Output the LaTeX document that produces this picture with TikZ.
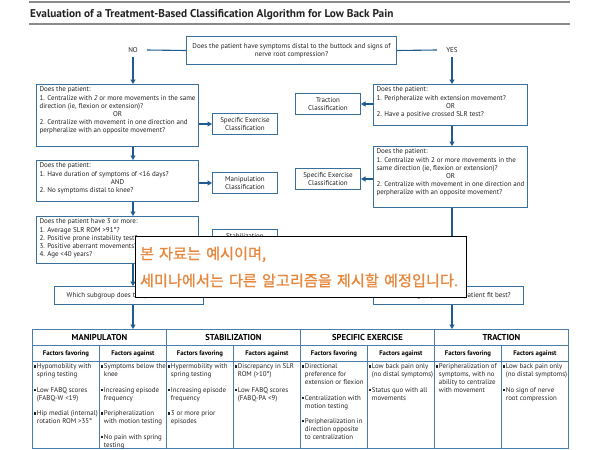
\documentclass[tikz,border=0pt]{standalone}
\usepackage{fontspec}
\setmainfont{PT Sans}
\newfontfamily\krfont[FakeBold=1]{Noto Sans CJK KR}
\usetikzlibrary{arrows.meta,positioning}
\definecolor{ink}{HTML}{222222}
\definecolor{rulegray}{HTML}{8A8A8A}
\definecolor{boxblue}{HTML}{3A6F9C}
\definecolor{flowblue}{HTML}{1E5C8F}
\definecolor{gridblue}{HTML}{4A7DA8}
\definecolor{notice}{HTML}{E6873C}
\newcommand{\qfont}{\fontsize{7}{8.1}\selectfont}
\newcommand{\cfont}{\fontsize{6.9}{7.85}\selectfont}
\newcommand{\sq}{\leavevmode\llap{\rule[1.3pt]{2.2pt}{2.2pt}\hspace{0.6pt}}}
\newcommand{\qor}[1]{\makebox[\linewidth]{#1}}
\newcommand{\boxtext}[3]{\parbox[c][#1][t]{#2}{\raggedright #3}}
\newcommand{\celltext}[1]{\parbox[c][82pt][t]{67pt}{\leftskip=4.5pt\rightskip=-4pt plus 1fil\relax #1}}
\tikzset{
  qbox/.style={draw=boxblue,line width=1pt,fill=white,anchor=north west,inner xsep=3pt,inner ysep=2.5pt,font=\qfont,text=ink},
  clsbox/.style={draw=boxblue,line width=1pt,fill=white,anchor=north west,align=center,minimum width=65pt,minimum height=21pt,inner sep=1pt,font=\qfont,text=ink},
  subbox/.style={draw=boxblue,line width=1pt,fill=white,anchor=north west,minimum width=#1,minimum height=18pt,inner sep=1pt,font=\qfont,text=ink},
  answer/.style={font=\qfont,text=ink,inner xsep=9pt,inner ysep=4pt},
  flow/.style={draw=flowblue,line width=1.1pt,-{Triangle[width=5pt,length=4.5pt]}},
  plainline/.style={draw=flowblue,line width=1.1pt},
  headcell/.style={draw=gridblue,line width=0.9pt,anchor=north west,minimum width=134pt,minimum height=16pt,inner sep=0pt,font=\fontsize{8.6}{9}\selectfont\bfseries},
  subcell/.style={draw=gridblue,line width=0.9pt,anchor=north west,minimum width=67pt,minimum height=16pt,inner sep=0pt,font=\fontsize{6.7}{8}\selectfont\bfseries},
  bodycell/.style={draw=gridblue,line width=0.9pt,anchor=north west,minimum width=67pt,minimum height=87pt,inner xsep=0pt,inner ysep=2.5pt,font=\cfont,text=ink},
  notebox/.style={draw=black,fill=white,line width=1pt,anchor=north west,minimum width=331pt,minimum height=61pt,text width=322pt,inner xsep=4.5pt,align=left,font=\krfont\fontsize{15.2}{27}\selectfont,text=notice}
}
\begin{document}
\begin{tikzpicture}[x=1pt,y=-1pt]
  \useasboundingbox (0,0) rectangle (600,450);
  % title
  \draw[rulegray,line width=1.3pt] (29,2) -- (570,2);
  \node[anchor=base west,inner sep=0pt,text=ink,font=\fontsize{11.3}{12}\selectfont\bfseries] (title) at (30,17.5)
    {Evaluation of a Treatment-Based Classification Algorithm for Low Back Pain};
  \draw[rulegray,line width=1.3pt] (29,24) -- (570,24);

  % first question
  \node[qbox,align=center,minimum width=210pt,minimum height=28pt,anchor=north west] (q) at (186,36)
    {Does the patient have symptoms distal to the buttock and signs of\\nerve root compression?};
  \node[answer] (no) at (133,50) {NO};
  \node[answer] (yes) at (452,50) {YES};
  \draw[plainline] (q.west) -- (no.east);
  \draw[plainline] (q.east) -- (yes.west);

  % left branch
  \node[qbox] (l1) at (36,84) {\boxtext{57pt}{156pt}{Does the patient:\\
    1. Centralize with \textit{2} or more movements in the same\\
    direction (ie, flexion or extension)?\\ \qor{OR}\\
    2. Centralize with movement in one direction and\\
    perpheralize with an opposite movement?}};
  \node[qbox] (l2) at (36,160) {\boxtext{36pt}{156pt}{Does the patient:\\
    1. Have duration of symptoms of <16 days?\\ \qor{AND}\\
    2. No symptoms distal to knee?}};
  \node[qbox] (l3) at (36,216) {\boxtext{42pt}{156pt}{Does the patient have 3 or more:\\
    1. Average SLR ROM >91°?\\
    2. Positive prone instability test?\\
    3. Positive aberrant movements?\\
    4. Age <40 years?}};
  \node[clsbox] (spex1) at (212,113) {Specific Exercise\\Classification};
  \node[clsbox] (manip) at (212,172) {Manipulation\\Classification};
  \node[clsbox] (stab) at (212,229) {Stabilization\\Classification};
  \node[subbox=149pt] (sg1) at (54,286) {Which subgroup does the patient fit best?};

  \draw[flow] (no.south) -- (no |- l1.north);
  \draw[flow] (l1.east |- spex1.west) -- (spex1.west);
  \draw[flow] (no |- l1.south) -- (no |- l2.north);
  \draw[flow] (l2.east |- manip.west) -- (manip.west);
  \draw[flow] (no |- l2.south) -- (no |- l3.north);
  \draw[flow] (l3.east |- stab.west) -- (stab.west);
  \draw[flow] (no |- l3.south) -- (no |- sg1.north);

  % right branch
  \node[qbox] (r1) at (373,84) {\boxtext{36pt}{148pt}{Does the patient:\\
    1. Peripheralize with extension movement?\\ \qor{OR}\\
    2. Have a positive crossed SLR test?}};
  \node[qbox] (r2) at (373,146) {\boxtext{56pt}{148pt}{Does the patient:\\
    1. Centralize with 2 or more movements in the\\
    same direction (ie, flexion or extension)?\\ \qor{OR}\\
    2. Centralize with movement in one direction and\\
    perpheralize with an opposite movement?}};
  \node[clsbox] (trac) at (295,93) {Traction\\Classification};
  \node[clsbox] (spex2) at (295,168) {Specific Exercise\\Classification};
  \node[subbox=150pt] (sg2) at (373,286) {Which subgroup does the patient fit best?};

  \draw[flow] (yes.south) -- (yes |- r1.north);
  \draw[flow] (r1.west |- trac.east) -- (trac.east);
  \draw[flow] (yes |- r1.south) -- (yes |- r2.north);
  \draw[flow] (r2.west |- spex2.east) -- (spex2.east);
  \draw[flow] (yes |- r2.south) -- (yes |- sg2.north);

  % table of factors
  \foreach \name/\lab [count=\i from 0] in {hmanip/MANIPULATON,hstab/STABILIZATION,hspex/SPECIFIC EXERCISE,htrac/TRACTION}
    \node[headcell] (\name) at ({32+134*\i},329) {\lab};
  \foreach \i in {0,...,7} {
    \ifodd\i \def\lab{Factors against}\else \def\lab{Factors favoring}\fi
    \node[subcell] (s\i) at ({32+67*\i},345) {\lab};
  }
  \foreach \txt [count=\i from 0] in {
    {\sq Hypomobility with\\spring testing\\[7.85pt]\sq Low FABQ scores\\(FABQ-W <19)\\[7.85pt]\sq Hip medial (internal)\\rotation ROM >35°},
    {\sq Symptoms below the\\knee\\[7.85pt]\sq Increasing episode\\frequency\\[7.85pt]\sq Peripheralization\\with motion testing\\[7.85pt]\sq No pain with spring\\testing},
    {\sq Hypermobility with\\spring testing\\[7.85pt]\sq Increasing episode\\frequency\\[7.85pt]\sq 3 or more prior\\episodes},
    {\sq Discrepancy in SLR\\ROM (>10°)\\[7.85pt]\sq Low FABQ scores\\(FABQ-PA <9)},
    {\sq Directional\\preference for\\extension or flexion\\[7.85pt]\sq Centralization with\\motion testing\\[7.85pt]\sq Peripheralization in\\direction opposite\\to centralization},
    {\sq Low back pain only\\(no distal symptoms)\\[7.85pt]\sq Status quo with all\\movements},
    {\sq Peripheralization of\\symptoms, with no\\ability to centralize\\with movement},
    {\sq Low back pain only\\(no distal symptoms)\\[7.85pt]\sq No sign of nerve\\root compression}}
    \node[bodycell] (b\i) at ({32+67*\i},361) {\celltext{\txt}};

  \draw[flow] (no |- sg1.south) -- (no |- hmanip.north);
  \draw[flow] (yes |- sg2.south) -- (yes |- htrac.north);

  % notice laid over the chart
  \node[notebox] (note) at (135,236) {본 자료는 예시이며,\\세미나에서는 다른 알고리즘을 제시할 예정입니다.};
\end{tikzpicture}
\end{document}
